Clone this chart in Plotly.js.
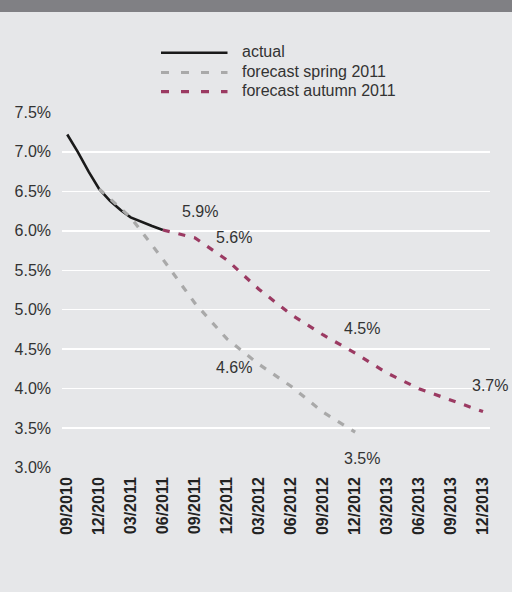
<!DOCTYPE html>
<html>
<head>
<meta charset="utf-8">
<script src="https://cdn.plot.ly/plotly-3.0.1.min.js"></script>
<style>
  html, body { margin: 0; padding: 0; background: #e6e7e9; }
  #chart { width: 512px; height: 592px; }
</style>
</head>
<body>
<div id="chart"></div>
<script>
// ---- data ----
const actualDates = ['2010-09-01','2010-10-01','2010-11-01','2010-12-01','2011-01-01','2011-02-01','2011-03-01','2011-04-01','2011-05-01','2011-06-01'];
const actualValues = [7.22, 7.00, 6.75, 6.53, 6.38, 6.26, 6.17, 6.11, 6.06, 6.01];

const springDates = ['2010-12-01','2011-03-01','2011-06-01','2011-09-01','2011-12-01','2012-03-01','2012-06-01','2012-09-01','2012-12-01'];
const springValues = [6.53, 6.17, 5.64, 5.08, 4.63, 4.31, 4.03, 3.70, 3.45];

const autumnDates = ['2011-06-01','2011-09-01','2011-12-01','2012-03-01','2012-06-01','2012-09-01','2012-12-01','2013-03-01','2013-06-01','2013-09-01','2013-12-01'];
const autumnValues = [6.01, 5.91, 5.63, 5.26, 4.94, 4.68, 4.45, 4.20, 4.00, 3.85, 3.71];

const seriesNames = ['actual', 'forecast spring 2011', 'forecast autumn 2011'];
const yTickVals = [3.0, 3.5, 4.0, 4.5, 5.0, 5.5, 6.0, 6.5, 7.0, 7.5];
const yTickText = ['3.0%','3.5%','4.0%','4.5%','5.0%','5.5%','6.0%','6.5%','7.0%','7.5%'];

// labelled points: [index, text]
const springLabels = [[4, '4.6%'], [8, '3.5%']];
const autumnLabels = [[1, '5.9%'], [2, '5.6%'], [6, '4.5%'], [10, '3.7%']];

// ---- styling ----
const FONT = 'Liberation Sans, Arial, Helvetica, sans-serif';
const FS = 16;
const BG = '#e6e7e9';
const GREY = '#a9a9a9';
const MAGENTA = '#9b3a62';
const BLACK = '#1a1a1a';
const ML = 62, MR = 22, MT = 112, MB = 124;
const W = 512, H = 592;
const plotW = W - ML - MR, plotH = H - MT - MB;
const px2x = p => (p - ML) / plotW;
const px2y = p => 1 + (MT - p) / plotH;

const lineStyles = [
  { color: BLACK, width: 2.6 },
  { color: GREY, width: 3.2, dash: '7px,9px' },
  { color: MAGENTA, width: 3.2, dash: '7px,9px' }
];

const traces = [
  { x: actualDates, y: actualValues, name: seriesNames[0], type: 'scatter', mode: 'lines', line: lineStyles[0] },
  { x: springDates, y: springValues, name: seriesNames[1], type: 'scatter', mode: 'lines', line: lineStyles[1] },
  { x: autumnDates, y: autumnValues, name: seriesNames[2], type: 'scatter', mode: 'lines', line: lineStyles[2] }
];

const shiftsSpring = { 4: [7, -29], 8: [7, -26] };
const shiftsAutumn = { 1: [5, 26], 2: [7, 23], 6: [7, 25], 10: [7, 26] };

const annotations = [];
springLabels.forEach(([i, t]) => annotations.push({
  x: springDates[i], y: springValues[i], text: t, showarrow: false,
  xanchor: 'center', yanchor: 'middle',
  xshift: shiftsSpring[i][0], yshift: shiftsSpring[i][1],
  font: { family: FONT, size: FS, color: '#333333' }
}));
autumnLabels.forEach(([i, t]) => annotations.push({
  x: autumnDates[i], y: autumnValues[i], text: t, showarrow: false,
  xanchor: 'center', yanchor: 'middle',
  xshift: shiftsAutumn[i][0], yshift: shiftsAutumn[i][1],
  font: { family: FONT, size: FS, color: '#333333' }
}));

// manual legend (shapes + text) to match the compact spacing
const legendRows = [52.7, 72.5, 91.7];
const legendDash = [null, '8px,12px', '8px,12px'];
const shapes = [{
  type: 'rect', xref: 'paper', yref: 'paper', layer: 'above',
  x0: -ML / plotW - 0.01, x1: 1 + MR / plotW + 0.01,
  y0: px2y(12), y1: px2y(0) + 0.01,
  fillcolor: '#808084', line: { width: 0 }
}];
seriesNames.forEach((name, k) => {
  const ln = { color: lineStyles[k].color, width: k === 0 ? 2.6 : 3.2 };
  if (legendDash[k]) ln.dash = legendDash[k];
  shapes.push({
    type: 'line', xref: 'paper', yref: 'paper',
    x0: px2x(161), x1: px2x(227.5), y0: px2y(legendRows[k]), y1: px2y(legendRows[k]),
    line: ln
  });
  annotations.push({
    xref: 'paper', yref: 'paper', x: px2x(240), y: px2y(legendRows[k] - 1),
    xanchor: 'left', yanchor: 'middle', text: name, showarrow: false,
    font: { family: FONT, size: FS, color: '#333333' }
  });
});

const layout = {
  width: W, height: H,
  margin: { l: ML, r: MR, t: MT, b: MB },
  paper_bgcolor: BG, plot_bgcolor: BG,
  font: { family: FONT, color: '#333333', size: FS },
  showlegend: false,
  xaxis: {
    type: 'date',
    range: ['2010-08-17', '2013-12-21'],
    tick0: '2010-09-01', dtick: 'M3', tickformat: '%m/%Y',
    tickangle: -90, showgrid: false, zeroline: false, showline: false,
    ticks: '', ticklabelstandoff: 5,
    tickfont: { family: FONT, size: FS, color: '#222222', weight: 'bold' }
  },
  yaxis: {
    range: [2.995, 7.505],
    tickvals: yTickVals, ticktext: yTickText,
    showgrid: true, gridcolor: '#ffffff', gridwidth: 1.5,
    zeroline: false, showline: false, ticks: '', ticklabelstandoff: 10,
    tickfont: { family: FONT, size: FS, color: '#333333' }
  },
  shapes: shapes,
  annotations: annotations
};

Plotly.newPlot('chart', traces, layout, { displayModeBar: false, staticPlot: true });
</script>
</body>
</html>
